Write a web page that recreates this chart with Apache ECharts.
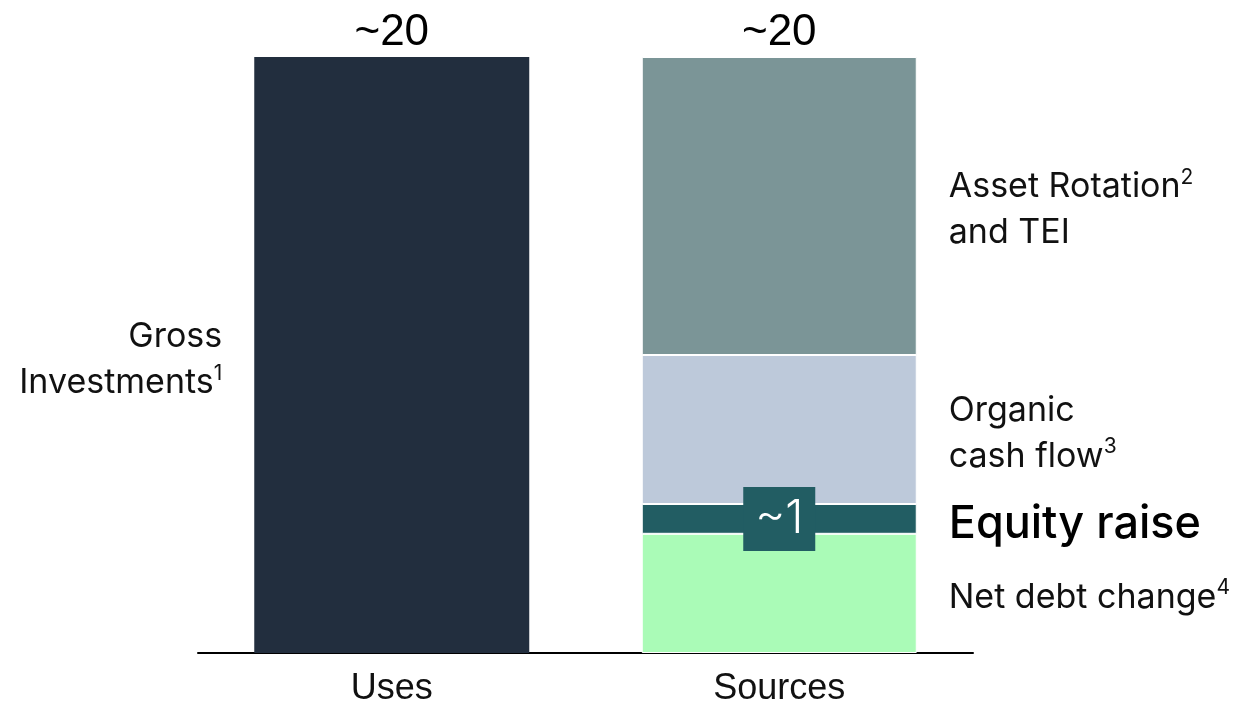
<!DOCTYPE html>
<html>
<head>
<meta charset="utf-8">
<script src="https://cdn.jsdelivr.net/npm/echarts@6/dist/echarts.min.js"></script>
<style>
  html, body { margin: 0; padding: 0; background: #fff; }
  #chart { width: 1248px; height: 704px; }
</style>
</head>
<body>
<div id="chart"></div>
<script>
// categories and values (in bn)
const categories = ['Uses', 'Sources'];
const grossInvestments = [20, '-'];
const netDebtChange = ['-', 4];
const equityRaise = ['-', 1];
const organicCashFlow = ['-', 5];
const assetRotation = ['-', 10];
const totalLabels = ['~20', '~20'];
const equityTag = '~1';

const sansFont = '"Liberation Sans", Arial, sans-serif';
const labelFont = 'Inter, "Noto Sans", sans-serif';

// rich style for labels with footnote marks
const supRich = {
  t: { fontSize: 34, lineHeight: 46, color: '#111', fontFamily: labelFont },
  s: { fontSize: 21, lineHeight: 46, color: '#111', fontFamily: labelFont, verticalAlign: 'top', padding: [3, 0, 0, 0] }
};

const chart = echarts.init(document.getElementById('chart'));

chart.setOption({
  animation: false,
  grid: { left: 198, right: 275, top: 57, bottom: 51, containLabel: false, outerBoundsMode: 'none' },
  xAxis: {
    type: 'category',
    data: categories,
    axisLine: { lineStyle: { color: '#000', width: 2 } },
    axisTick: { show: false },
    axisLabel: { fontSize: 36, color: '#111', fontFamily: sansFont, margin: 18 }
  },
  yAxis: { type: 'value', min: 0, max: 20, show: false, splitLine: { show: false } },
  series: [
    {
      name: 'Gross Investments',
      type: 'bar', stack: 'a', barWidth: 275,
      data: grossInvestments,
      itemStyle: { color: '#222e3e' },
      label: {
        show: true, position: 'left', distance: 32, align: 'right', offset: [0, 5],
        formatter: '{t|Gross}\n{t|Investments}{s|1}',
        rich: supRich
      }
    },
    {
      name: 'Net debt change',
      type: 'bar', stack: 'a',
      data: netDebtChange,
      itemStyle: { color: '#aafbb7', borderColor: '#fff', borderWidth: 1 },
      label: {
        show: true, position: 'right', distance: 32, offset: [0, 4],
        formatter: '{t|Net debt change}{s|4}',
        rich: supRich
      }
    },
    {
      name: 'Equity raise',
      type: 'bar', stack: 'a',
      data: equityRaise,
      itemStyle: { color: '#225d63', borderColor: '#fff', borderWidth: 1 },
      label: {
        show: true, position: 'right', distance: 32, offset: [0, 6],
        formatter: 'Equity raise',
        fontSize: 45, fontWeight: 500, color: '#000', fontFamily: labelFont
      },
      markPoint: {
        symbol: 'rect',
        symbolSize: [72, 64],
        itemStyle: { color: '#225d63' },
        label: { show: true, position: 'inside', color: '#fff', fontSize: 46, fontWeight: 300, fontFamily: labelFont, formatter: equityTag },
        data: [{ coord: ['Sources', 4.5] }]
      }
    },
    {
      name: 'Organic cash flow',
      type: 'bar', stack: 'a',
      data: organicCashFlow,
      itemStyle: { color: '#bdc9da', borderColor: '#fff', borderWidth: 1 },
      label: {
        show: true, position: 'right', distance: 32, offset: [0, 4],
        formatter: '{t|Organic}\n{t|cash flow}{s|3}',
        rich: supRich
      }
    },
    {
      name: 'Asset Rotation and TEI',
      type: 'bar', stack: 'a',
      data: assetRotation,
      itemStyle: { color: '#7b9597', borderColor: '#fff', borderWidth: 1 },
      label: {
        show: true, position: 'right', distance: 32, offset: [0, 4],
        formatter: '{t|Asset Rotation}{s|2}\n{t|and TEI}',
        rich: supRich
      }
    },
    {
      name: 'Total',
      type: 'bar', stack: 'a',
      data: [0, 0],
      itemStyle: { color: 'transparent' },
      label: {
        show: true, position: 'top', distance: 2,
        formatter: p => totalLabels[p.dataIndex],
        fontSize: 44, color: '#000', fontFamily: sansFont
      }
    }
  ]
});
</script>
</body>
</html>
